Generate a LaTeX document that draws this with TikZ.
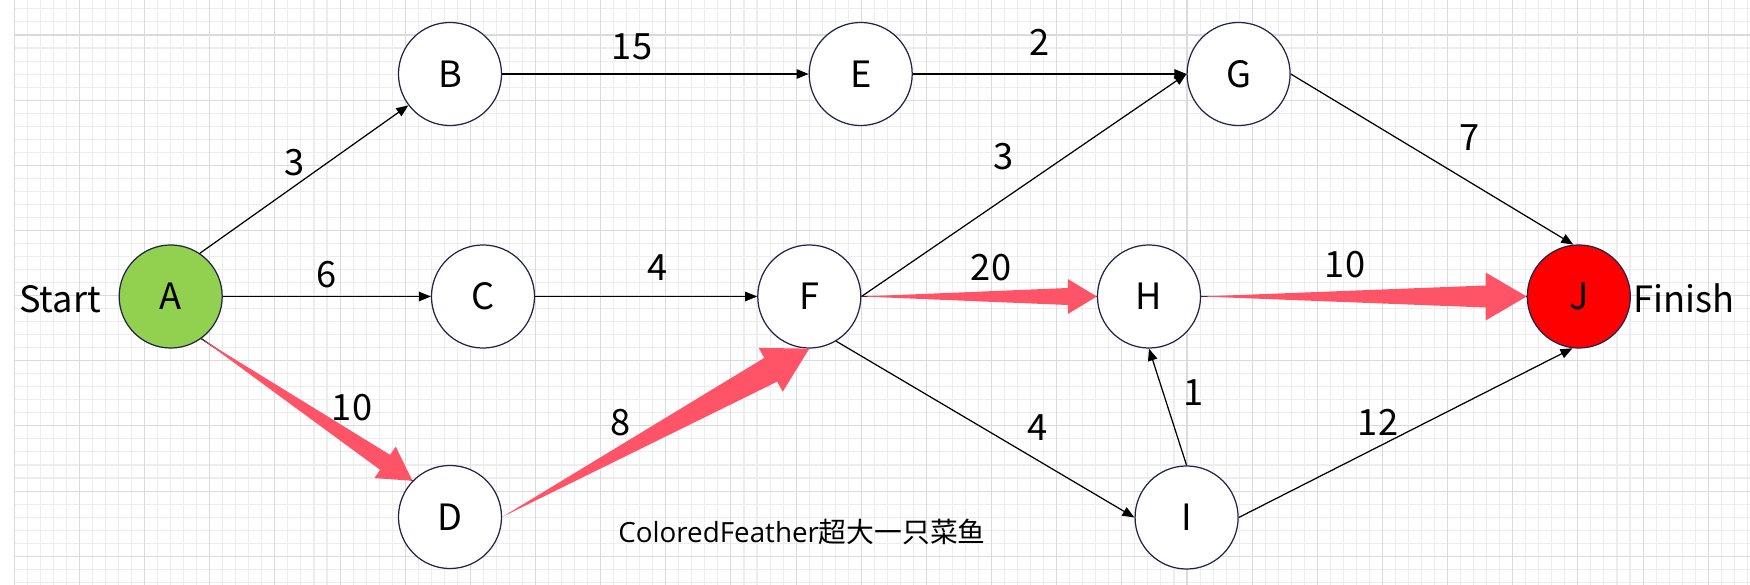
\documentclass[tikz,border=0pt]{standalone}
\usepackage{fontspec}
\setmainfont{Noto Sans CJK SC}
\newfontfamily\latinsans{Open Sans}
\usetikzlibrary{arrows.meta,calc}
\definecolor{critred}{HTML}{FF5468}
\definecolor{startgreen}{HTML}{92D050}
\definecolor{ringline}{HTML}{22224A}
\definecolor{gridmajor}{HTML}{DADADA}
\definecolor{gridminor}{HTML}{EDEDED}

\begin{document}
\begin{tikzpicture}[x=0.01cm, y=-0.01cm, >={Triangle[length=1.2mm,width=0.95mm]},
	font=\fontsize{10.3}{12}\selectfont, line join=round,
	vertex/.style={circle, draw=ringline, line width=0.35pt, fill=white, minimum size=1.03cm, inner sep=0pt},
	edge/.style={->, line width=0.35pt},
	crit/.style n args={3}{fill=critred, to path={
		-- ($(\tikztotarget)!#3!(\tikztostart)!#1!90:(\tikztotarget)$)
		-- ($(\tikztotarget)!#3!(\tikztostart)!#2!90:(\tikztotarget)$)
		-- (\tikztotarget)
		-- ($(\tikztotarget)!#3!(\tikztostart)!#2!-90:(\tikztotarget)$)
		-- ($(\tikztotarget)!#3!(\tikztostart)!#1!-90:(\tikztotarget)$)
		-- cycle}}]
	\useasboundingbox (0,0) rectangle (1750,585);
	% grid
	\foreach \i in {0,...,133} \draw[gridminor, line width=0.3pt] ({14.3+13.03*\i},0) -- ({14.3+13.03*\i},585);
	\foreach \j in {-2,...,42} \draw[gridminor, line width=0.3pt] (14.3,{35+13.03*\j}) -- (1750,{35+13.03*\j});
	\foreach \i in {0,...,26} \draw[gridmajor, line width=0.3pt] ({14.3+65.15*\i},0) -- ({14.3+65.15*\i},585);
	\foreach \j in {0,...,8} \draw[gridmajor, line width=0.3pt] (14.3,{35+65.15*\j}) -- (1750,{35+65.15*\j});
	% events
	\node[vertex, fill=startgreen] (A) at (170.7,296.5) {A};
	\node[vertex] (B) at (450,74) {B};
	\node[vertex] (C) at (483,296.5) {C};
	\node[vertex] (D) at (450,517) {D};
	\node[vertex] (E) at (860.7,74) {E};
	\node[vertex] (F) at (809.3,296.5) {F};
	\node[vertex] (G) at (1238.6,74) {G};
	\node[vertex] (H) at (1149,296.5) {H};
	\node[vertex] (I) at (1186.6,517.5) {I};
	\node[vertex, fill=red] (J) at (1578.8,296.5) {J};
	\node (start) at (60,299) {Start};
	\node (finish) at (1684,298) {Finish};
	% activities
	\draw[edge] (A.56) -- (B.217);
	\draw[edge] (A.east) -- (C.west);
	\draw[edge] (B.east) -- (E.west);
	\draw[edge] (E.east) -- (G.west);
	\draw[edge] (C.east) -- (F.west);
	\draw[edge] (F.east) -- (G.west);
	\draw[edge] (F.-59) -- (I.west);
	\draw[edge] (I.north) -- (H.south);
	\draw[edge] (I.east) -- (J.-97);
	\draw[edge] (G.east) -- (J.96);
	% critical path
	\draw[line width=0.35pt] (A.-54) -- (D.136);
	\draw[line width=0.35pt] (F.east) -- (H.west);
	\draw[line width=0.35pt] (H.east) -- (J.west);
	\fill[crit={0.09cm}{0.19cm}{0.33cm}] (A.-54) to (D.136);
	\fill[crit={0.135cm}{0.25cm}{0.44cm}] (D.east) to (F.south);
	\fill[crit={0.085cm}{0.175cm}{0.29cm}] (F.east) to (H.west);
	\fill[crit={0.11cm}{0.24cm}{0.41cm}] (H.east) to (J.west);
	% durations
	\node (wAB) at (295,163) {3};
	\node (wAC) at (327,275) {6};
	\node (wAD) at (352,408) {10};
	\node (wBE) at (632,47) {15};
	\node (wEG) at (1040,42) {2};
	\node (wCF) at (658,268) {4};
	\node (wDF) at (621,423) {8};
	\node (wFG) at (1004,157) {3};
	\node (wFH) at (991,268) {20};
	\node (wFI) at (1038,428) {4};
	\node (wIH) at (1194,393) {1};
	\node (wIJ) at (1378,422) {12};
	\node (wGJ) at (1470,138) {7};
	\node (wHJ) at (1345,265) {10};
	\node (credit) at (802,532) {\fontsize{7.9}{10}\selectfont{\latinsans ColoredFeather}超大一只菜鱼};
\end{tikzpicture}
\end{document}
